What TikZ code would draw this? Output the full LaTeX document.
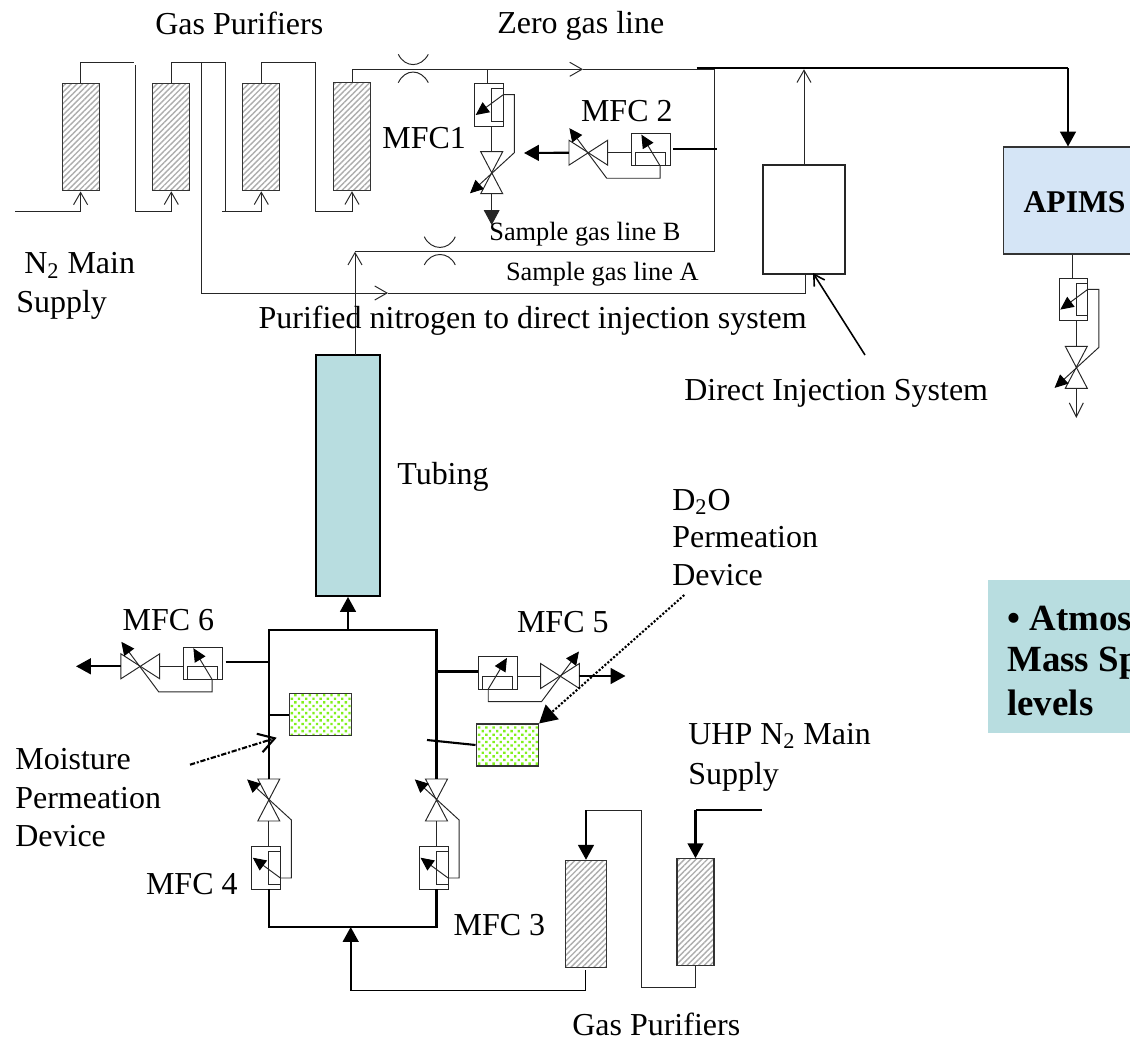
\documentclass[tikz,border=0pt]{standalone}
\usepackage{fontspec}
\setmainfont{Liberation Serif}
\usetikzlibrary{arrows.meta,patterns.meta}

\definecolor{tubeblue}{RGB}{184,221,224}
\definecolor{apimsblue}{RGB}{213,229,246}
\definecolor{permgreen}{RGB}{130,240,30}

\tikzset{
    thinline/.style={line width=0.55pt, draw=black!85},
    boldline/.style={line width=1.2pt, draw=black},
    openarr/.style={-{Straight Barb[length=7pt,width=8pt]}},
    fillarr/.style={-{Triangle[length=8.5pt,width=9pt]}},
    smallarr/.style={-{Triangle[length=7.5pt,width=7pt,color=black]}},
    purifier/.style={draw=black!80, line width=0.6pt, inner sep=0pt, minimum width=0.74cm,
        pattern={Lines[angle=45,distance=2.3pt,line width=0.8pt]}, pattern color=black!32},
    permbox/.style={draw=black!80, line width=0.6pt, inner sep=0pt, minimum width=1.25cm, minimum height=0.84cm,
        pattern={Dots[distance=2.9pt,radius=0.95pt,angle=45]}, pattern color=permgreen},
    lbl/.style={anchor=base west, inner sep=0pt, font=\fontsize{18.2}{18.2}\selectfont},
    lblsmall/.style={anchor=base west, inner sep=0pt, font=\fontsize{15}{15}\selectfont},
    lblbold/.style={anchor=base west, inner sep=0pt, font=\fontsize{21}{21}\selectfont\bfseries},
    % flow controller with its valve, drawn around the valve centre
    mfcunit/.pic={
        \draw[thinline] (-17,-89) rectangle (11.6,-46.7);
        \draw[thinline] (0,-84) rectangle (11.6,-51.4);
        \draw[thinline, smallarr] (11.6,-78) -- (-16,-57.7);
        \draw[thinline] (0,-46.7) -- (0,-21);
        \draw[thinline] (-11,-21) -- (11,-21) -- (-11,21) -- (11,21) -- cycle;
        \draw[thinline, smallarr] (11.6,-78) -- (22.6,-78) -- (22.6,-20) -- (-21.7,20.6);
        \coordinate (-in) at (-4,-89);
        \coordinate (-bc) at (0,-89);
        \coordinate (-out) at (0,21);
    }
}

\begin{document}
\begin{tikzpicture}[x=0.02cm, y=-0.02cm]
    \useasboundingbox (0,0) rectangle (1130,1041);
    \clip (0,0) rectangle (1130,1041);

    % Upper purifiers
    \node[purifier, minimum height=2.14cm] (pa) at (80.6,137.3) {};
    \node[purifier, minimum height=2.14cm] (pb) at (171.3,137.3) {};
    \node[purifier, minimum height=2.14cm] (pc) at (261.3,137.3) {};
    \node[purifier, minimum height=2.16cm] (pd) at (352,136.7) {};

    \coordinate (feed) at (15,211);
    \draw[thinline, openarr] (feed) -| (pa.south);
    \coordinate (ab) at (135,65);
    \coordinate (abb) at (135,211);
    \draw[thinline] (pa.north) |- (134,62.7);
    \draw[thinline, openarr] (ab) -- (abb) -| (pb.south);
    \coordinate (bc) at (225,62);
    \coordinate (bcb) at (225,211);
    \draw[thinline] (pb.north) |- (bc);
    \draw[thinline] (bc) -- (bcb);
    \draw[thinline, openarr] (222,211) -| (pc.south);
    \coordinate (cd) at (315,62.7);
    \coordinate (cdb) at (315,211);
    \draw[thinline] (pc.north) |- (cd) -- (cdb);
    \draw[thinline, openarr] (cdb) -| (pd.south);

    % Zero gas line
    \coordinate (zerotip) at (583,69.3);
    \coordinate (zeroend) at (714.7,69.3);
    \coordinate (lineA) at (714.7,251.7);
    \coordinate (tubetop) at (355,251.7);
    \draw[thinline, openarr] (pd.north) |- (zerotip);
    \draw[thinline] (zerotip) -- (zeroend) -- (lineA) -- (tubetop);
    \coordinate (apimsturn) at (1068,68);
    \draw[boldline] (696.7,68) -- (apimsturn);

    % Restrictors
    \draw[thinline] (398.3,54.3) .. controls (405,68) and (421,68) .. (428.3,54.3);
    \draw[thinline] (398.3,82.7) .. controls (405,68.5) and (421,68.5) .. (428.3,82.7);
    \draw[thinline] (424.3,236.7) .. controls (431,251) and (449,251) .. (455.3,236.7);
    \draw[thinline] (424.3,265) .. controls (431,251) and (449,251) .. (455.3,265);

    % MFC 1 and MFC 2
    \pic at (491.7,172.7) (mone) {mfcunit};
    \draw[thinline] (mone-in) -- (mone-in |- zerotip);
    \coordinate (monetip) at (491.7,225);
    \draw[thinline, fillarr] (mone-out) -- (monetip);
    \pic[xscale=0.92, yscale=1.13, rotate=-90] at (588.3,152.7) (mtwo) {mfcunit};
    \coordinate (mtwotip) at (524,153);
    \draw[boldline, fillarr] (mtwo-out) -- (mtwotip);
    \draw[boldline, line width=0.9pt] (673.3,149) -- (716.7,149);

    % Direct injection branch
    \node[draw=black!85, line width=0.6pt, inner sep=0pt, minimum width=1.64cm, minimum height=2.18cm] (inject) at (804,219.5) {};
    \coordinate (purgetip) at (388,293);
    \coordinate (purgeend) at (805,293);
    \draw[thinline, openarr] (201,62) |- (purgetip);
    \draw[thinline] (purgetip) -- (purgeend) -- (purgeend |- inject.south);
    \draw[thinline, openarr] (inject.north) -- (inject.north |- zerotip);
    \coordinate (injectlbl) at (865,355);
    \draw[boldline, line width=0.9pt, -{Straight Barb[length=6pt,width=7pt]}] (injectlbl) -- (813,273);

    % APIMS
    \node[draw=black!80, line width=0.7pt, fill=apimsblue, inner sep=0pt, minimum width=3cm, minimum height=2.14cm] (apims) at (1078.7,200.6) {};
    \draw[boldline, fillarr] (apimsturn) -- (apimsturn |- apims.north);
    \pic at (1076.3,367.3) (mdrain) {mfcunit};
    \draw[thinline] (mdrain-in) -- (mdrain-in |- apims.south);
    \coordinate (draintip) at (1076.3,418);
    \draw[thinline, -{Straight Barb[length=8pt,width=8pt]}] (mdrain-out) -- (draintip);

    % Tubing
    \node[draw=black, line width=1.1pt, fill=tubeblue, inner sep=0pt, minimum width=1.28cm, minimum height=4.82cm] (tube) at (348,475.5) {};
    \draw[thinline, openarr] (355,355) -- (tubetop);

    % Chamber with MFC 3 to MFC 6
    \coordinate (tl) at (268.8,630);
    \coordinate (tr) at (436.5,630);
    \coordinate (bl) at (268.8,927);
    \coordinate (br) at (436.5,927);
    \pic[yscale=-1] at (268.8,800) (mfour) {mfcunit};
    \pic[yscale=-1] at (436.5,800) (mthree) {mfcunit};
    \draw[boldline] (mfour-out) -- (tl) -- (tr) -- (mthree-out);
    \draw[boldline] (mfour-bc) -- (bl) -- (br) -- (mthree-bc);
    \draw[boldline, fillarr] (348,630) -- (tube.south);

    \pic[xscale=0.92, yscale=1.13, rotate=-90] at (140.3,666.3) (msix) {mfcunit};
    \coordinate (msixtip) at (76,666.3);
    \draw[boldline, fillarr] (msix-out) -- (msixtip);
    \draw[boldline] (225.7,662.3) -- (tl |- 0,662.3);

    \pic[xscale=-0.92, yscale=1.13, rotate=-90] at (560,676) (mfive) {mfcunit};
    \coordinate (mfivetip) at (625.5,676);
    \draw[boldline, fillarr] (mfive-out) -- (mfivetip);
    \draw[boldline] (mfive-in) -- (mfive-in -| tr);

    % Permeation devices
    \node[permbox] (moist) at (320.3,714.7) {};
    \node[permbox] (dtwo) at (507.3,745) {};
    \draw[boldline] (moist.west) -- (moist.west -| tl);
    \coordinate (dtwoend) at (427,740);
    \draw[boldline] (dtwoend) -- (dtwo.west);
    \coordinate (moistlbl) at (190,764.7);
    \draw[boldline, densely dashdotted, -{Straight Barb[length=9pt,width=11pt]}] (moistlbl) -- (276.7,737.7);
    \coordinate (dtwolbl) at (684.3,595);
    \draw[boldline, densely dotted, -{Triangle[length=10pt,width=11pt,sep=0pt]}] (dtwolbl) -- (dtwo.north east);

    % Lower purifiers
    \node[purifier, minimum width=0.83cm, minimum height=2.14cm] (pe) at (586,913.8) {};
    \node[purifier, minimum height=2.14cm] (pf) at (695.5,912.2) {};
    \coordinate (uhp) at (761.7,810);
    \draw[boldline, line width=0.7pt] (uhp) -- (pf.north |- uhp);
    \draw[boldline, fillarr] (pf.north |- uhp) -- (pf.north);
    \coordinate (fg) at (641.7,987);
    \coordinate (gg) at (641.7,810.3);
    \draw[thinline] (pf.south) |- (fg) -- (gg) -- (585,810.3);
    \draw[boldline, fillarr] (pe.north |- gg) -- (pe.north);
    \coordinate (ret) at (350.7,990.7);
    \draw[boldline, line width=0.8pt] (585.7,970) |- (ret);
    \draw[boldline, fillarr] (ret) -- (ret |- br);

    % Side note
    \fill[tubeblue] (988,580) rectangle (1130,733);

    % Labels
    \node[lbl] (gastop) at (155,34) {Gas Purifiers};
    \node[lbl] (zerolbl) at (497,33) {Zero gas line};
    \node[lbl] (mfconelbl) at (382,148.7) {MFC1};
    \node[lbl] (mfctwolbl) at (580.7,121.3) {MFC 2};
    \node[lblsmall] (sampleb) at (489,240.8) {Sample gas line B};
    \node[lblsmall] (samplea) at (505.7,280) {Sample gas line A};
    \node[lbl] (nmain) at (24,273.7) {N\textsubscript{2} Main};
    \node[lbl] (nsupply) at (16,312) {Supply};
    \node[lbl] (purified) at (258.3,328.3) {Purified nitrogen to direct injection system};
    \node[lbl] (injectname) at (684,400) {Direct Injection System};
    \node[lblbold, font=\fontsize{18}{18}\selectfont\bfseries] (apimsname) at (1023.3,212.7) {APIMS};
    \node[lbl] (tubing) at (397,484) {Tubing};
    \node[lbl] (dtwoa) at (672,510) {D\textsubscript{2}O};
    \node[lbl] (dtwob) at (672,547) {Permeation};
    \node[lbl] (dtwoc) at (672,585) {Device};
    \node[lbl] (mfcsix) at (122.3,630) {MFC 6};
    \node[lbl] (mfcfive) at (516.7,632.7) {MFC 5};
    \node[lbl] (uhpa) at (688,744) {UHP N\textsubscript{2} Main};
    \node[lbl] (uhpb) at (688,784) {Supply};
    \node[lbl] (moista) at (15,769) {Moisture};
    \node[lbl] (moistb) at (15,808) {Permeation};
    \node[lbl] (moistc) at (15,846) {Device};
    \node[lbl] (mfcfour) at (145.7,894.2) {MFC 4};
    \node[lbl] (mfcthree) at (453.3,935.8) {MFC 3};
    \node[lbl] (gasbot) at (572,1035) {Gas Purifiers};
    \node[lblbold] (notea) at (1007,630) {• Atmos};
    \node[lblbold] (noteb) at (1007,671) {Mass Sp};
    \node[lblbold] (notec) at (1007,715) {levels};
\end{tikzpicture}
\end{document}
